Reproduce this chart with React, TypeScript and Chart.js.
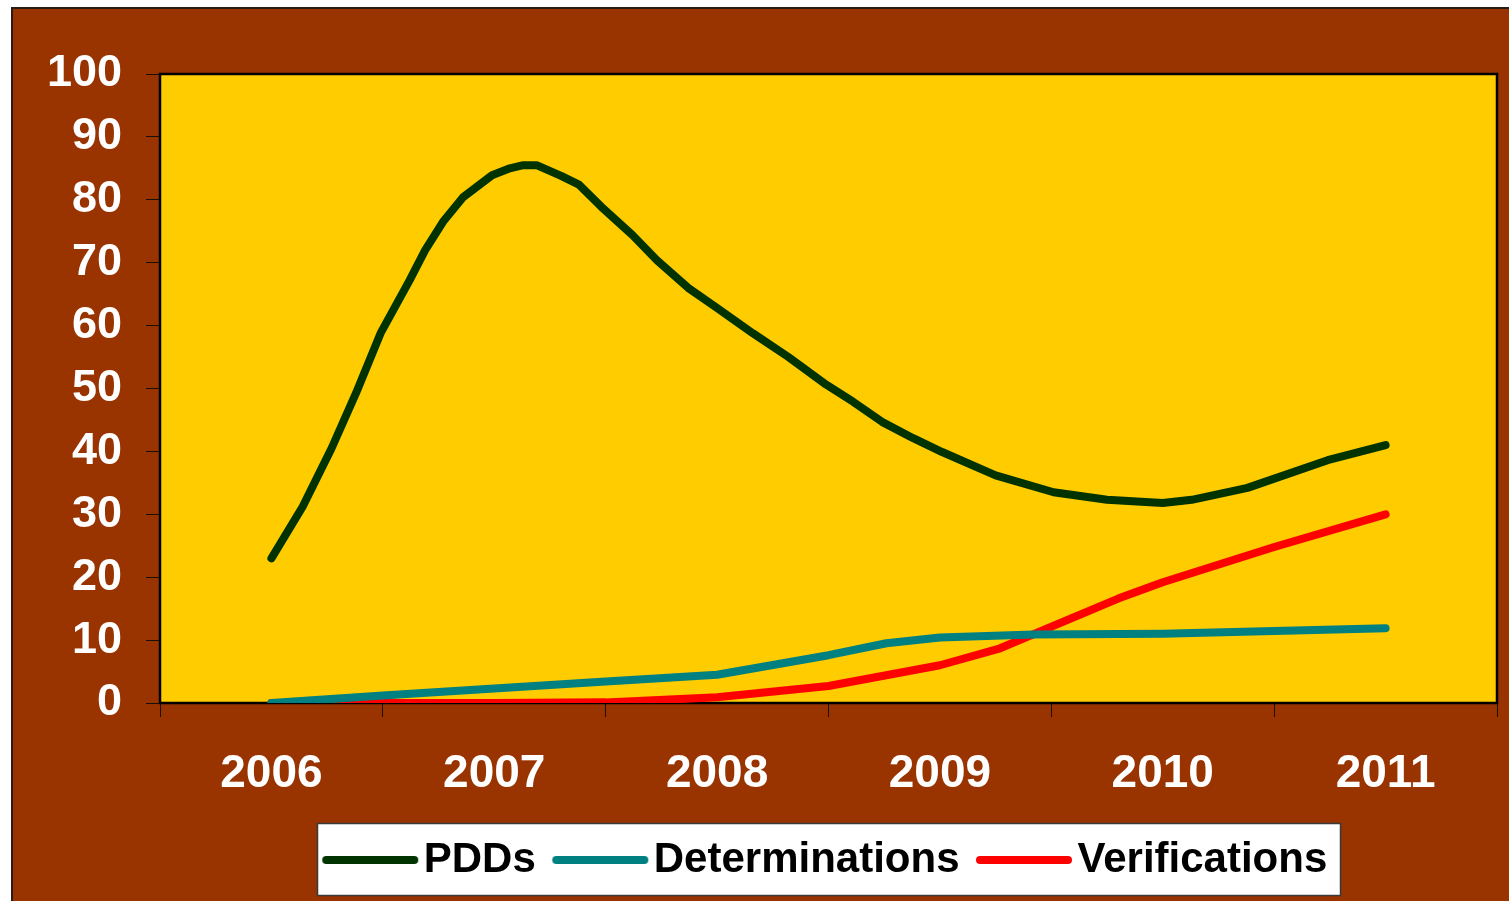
import React, { useEffect, useRef } from 'react';
import { Chart, registerables } from 'chart.js';

Chart.register(...registerables);

// Category labels (years) and axis range
const years = [2006, 2007, 2008, 2009, 2010, 2011];
const yMin = 0;
const yMax = 100;
const yStep = 10;

// PDDs (x in years, 2006 = centre of the 2006 category)
const pddX = [2006.0, 2006.14, 2006.27, 2006.38, 2006.49, 2006.62, 2006.69, 2006.77, 2006.86, 2006.99, 2007.07, 2007.13, 2007.19, 2007.3, 2007.38, 2007.48, 2007.62, 2007.73, 2007.87, 2008.0, 2008.16, 2008.32, 2008.49, 2008.61, 2008.74, 2008.88, 2009.01, 2009.25, 2009.51, 2009.75, 2010.0, 2010.13, 2010.38, 2010.74, 2011.0];
const pddY = [23.0, 31.2, 40.5, 49.3, 58.8, 67.2, 72.0, 76.5, 80.4, 83.9, 85.0, 85.5, 85.5, 83.8, 82.4, 78.9, 74.4, 70.4, 66.0, 62.8, 58.8, 55.0, 50.6, 47.9, 44.7, 42.1, 39.9, 36.2, 33.5, 32.3, 31.8, 32.3, 34.2, 38.6, 41.0];

// Determinations
const detX = [2006.0, 2006.5, 2007.0, 2007.5, 2008.0, 2008.5, 2008.76, 2009.0, 2009.42, 2010.0, 2011.0];
const detY = [0, 1.2, 2.3, 3.4, 4.5, 7.6, 9.5, 10.4, 10.9, 11.0, 11.9];

// Verifications
const verX = [2006.0, 2007.0, 2007.5, 2008.0, 2008.5, 2009.0, 2009.27, 2009.8, 2010.0, 2010.5, 2011.0];
const verY = [0, 0, 0.1, 0.9, 2.7, 6.0, 8.7, 16.6, 19.2, 24.8, 30.0];

const seriesNames = ['PDDs', 'Determinations', 'Verifications'];
const seriesColors = ['#003300', '#008080', '#FF0000'];

const FONT = '"Liberation Sans", Arial, Helvetica, sans-serif';
const LEGEND_PAD = 32;

const toPoints = (xs: number[], ys: number[]) => xs.map((x, i) => ({ x, y: ys[i] }));

// legend swatch: a thick round-capped line
const makeSwatch = (color: string) => {
  const c = document.createElement('canvas');
  c.width = 98;
  c.height = 10;
  const g = c.getContext('2d');
  if (g) {
    g.strokeStyle = color;
    g.lineWidth = 8;
    g.lineCap = 'round';
    g.beginPath();
    g.moveTo(5, 5);
    g.lineTo(93, 5);
    g.stroke();
  }
  return c;
};

const decorPlugin = {
  id: 'decor',
  afterLayout(chart: any) {
    const lg = chart.legend;
    const ca = chart.chartArea;
    if (!lg || !ca) return;
    const target = (ca.left + ca.right) / 2 + 4;
    const d = target - (lg.left + lg.right) / 2;
    lg.left += d;
    lg.right += d;
    lg.top += 2;
    lg.bottom += 2;
  },
  beforeDraw(chart: any) {
    const { ctx, chartArea: ca } = chart;
    ctx.save();
    ctx.fillStyle = '#FFCC00';
    ctx.fillRect(ca.left, ca.top, ca.right - ca.left, ca.bottom - ca.top);
    const lg = chart.legend;
    if (lg && lg.lineWidths) {
      const lw = lg.lineWidths[0];
      const x0 = (lg.left + LEGEND_PAD + lg.right - lw) / 2;
      const l = Math.round(x0 - 21) + 0.5;
      const r = Math.round(x0 + lw - LEGEND_PAD + 13) + 0.5;
      const t = 823.5;
      const b = t + 72;
      ctx.fillStyle = '#FFFFFF';
      ctx.fillRect(l, t, r - l, b - t);
      ctx.strokeStyle = '#3a3a3a';
      ctx.lineWidth = 1.5;
      ctx.strokeRect(l, t, r - l, b - t);
    }
    ctx.restore();
  },
  beforeDatasetsDraw(chart: any) {
    const { ctx, chartArea: ca } = chart;
    ctx.save();
    ctx.strokeStyle = '#000000';
    ctx.lineWidth = 2.5;
    ctx.strokeRect(ca.left, ca.top, ca.right - ca.left, ca.bottom - ca.top);
    ctx.restore();
  },
};

export default function App() {
  const canvasRef = useRef<HTMLCanvasElement | null>(null);

  useEffect(() => {
    const canvas = canvasRef.current;
    if (!canvas) return;
    const seriesData = [toPoints(pddX, pddY), toPoints(detX, detY), toPoints(verX, verY)];
    const first = years[0] - 0.5;
    const last = years[years.length - 1] + 0.5;
    const xTickValues: number[] = [];
    for (let v = first; v <= last + 1e-9; v += 0.5) xTickValues.push(v);

    const chart = new Chart(canvas, {
      type: 'line',
      data: {
        datasets: seriesNames.map((name, i) => ({
          label: name,
          data: seriesData[i],
          borderColor: seriesColors[i],
          backgroundColor: seriesColors[i],
          borderWidth: 8,
          borderCapStyle: 'round',
          borderJoinStyle: 'round',
          pointRadius: 0,
          pointHoverRadius: 0,
          pointStyle: makeSwatch(seriesColors[i]),
          tension: 0,
          fill: false,
          clip: 0,
        })),
      },
      options: {
        responsive: false,
        animation: false,
        devicePixelRatio: 1,
        events: [],
        layout: { padding: { left: 10, right: 12, top: 74, bottom: 12 } },
        plugins: {
          legend: {
            position: 'bottom',
            labels: {
              usePointStyle: true,
              pointStyleWidth: 65,
              padding: LEGEND_PAD,
              color: '#000000',
              font: { family: FONT, size: 42, weight: 'bold' },
            },
          },
          tooltip: { enabled: false },
        },
        scales: {
          x: {
            type: 'linear',
            min: first,
            max: last,
            afterBuildTicks: (scale: any) => {
              scale.ticks = xTickValues.map((v) => ({ value: v }));
            },
            afterFit: (scale: any) => {
              scale.height = 102;
              scale.paddingLeft = 0;
              scale.paddingRight = 0;
            },
            border: { display: false },
            grid: {
              drawOnChartArea: false,
              drawTicks: true,
              tickLength: 14,
              lineWidth: 1,
              color: (ctx: any) =>
                ctx.tick && Math.abs(ctx.tick.value % 1) > 0.25 ? '#1a1008' : 'rgba(0,0,0,0)',
            },
            ticks: {
              autoSkip: false,
              maxRotation: 0,
              minRotation: 0,
              padding: 30,
              color: '#FFFFFF',
              font: { family: FONT, size: 46, weight: 'bold' },
              callback: (value: any) => (Number.isInteger(value) ? String(value) : ''),
            },
          },
          y: {
            min: yMin,
            max: yMax,
            afterFit: (scale: any) => {
              scale.width = 150;
            },
            border: { display: false },
            grid: {
              drawOnChartArea: false,
              drawTicks: true,
              tickLength: 14,
              lineWidth: 1,
              color: '#1a1008',
            },
            ticks: {
              stepSize: yStep,
              padding: 24,
              color: '#FFFFFF',
              font: { family: FONT, size: 45, weight: 'bold' },
              callback: (value: any) => String(value),
            },
          },
        },
      },
      plugins: [decorPlugin],
    } as any);

    return () => {
      chart.destroy();
    };
  }, []);

  return (
    <div style={{ position: 'fixed', left: 0, top: 0, width: 1509, height: 901, overflow: 'hidden', background: '#FFFFFF' }}>
      <div
        style={{
          position: 'absolute',
          left: 11,
          top: 7,
          width: 1498,
          height: 894,
          background: '#993300',
          borderLeft: '2px solid #2a1c14',
          borderTop: '2px solid #2a1c14',
          boxSizing: 'border-box',
        }}
      />
      <canvas
        ref={canvasRef}
        width={1509}
        height={901}
        style={{ position: 'absolute', left: 0, top: 0, width: 1509, height: 901 }}
      />
    </div>
  );
}
